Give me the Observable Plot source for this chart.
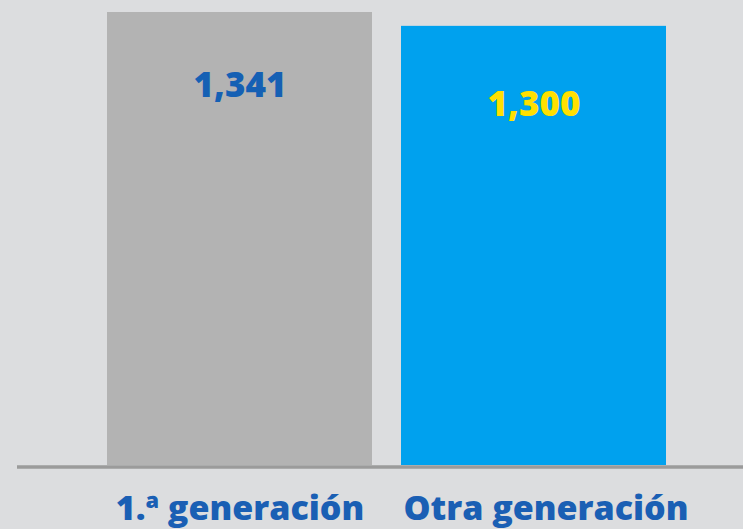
<!DOCTYPE html>
<html>
<head>
<meta charset="utf-8">
<script src="https://cdn.jsdelivr.net/npm/d3@7"></script>
<script src="https://cdn.jsdelivr.net/npm/@observablehq/plot@0.6"></script>
<style>
  html, body { margin: 0; padding: 0; background: #dcdddf; }
  #chart svg { display: block; }
</style>
</head>
<body>
<div id="chart"></div>
<script>
const categories = ["1.ª generación", "Otra generación"];
const values = [1341, 1300];
const barColors = ["#b3b3b3", "#00a1ee"];
const valueColors = ["#1560b4", "#ffe000"];

const data = categories.map((c, i) => ({category: c, value: values[i], bar: barColors[i], txt: valueColors[i], i}));
const fmt = d3.format(",");
const font = "'Open Sans', sans-serif";

const chart = Plot.plot({
  width: 743,
  height: 529,
  marginLeft: 17,
  marginRight: 0,
  marginTop: 0,
  marginBottom: 0,
  style: {background: "#dcdddf", fontFamily: font},
  x: {domain: categories, range: [106, 667], paddingInner: 0.098, paddingOuter: 0, axis: null},
  y: {domain: [0, 1341], range: [465, 12], axis: null},
  marks: [
    Plot.barY(data, {x: "category", y: "value", fill: "bar"}),
    Plot.ruleY([0], {stroke: "#9b9b9b", strokeWidth: 3.5, dy: 1.5}),
    Plot.text(data.filter(d => d.i === 0), {x: "category", y: "value", text: d => fmt(d.value), fill: "txt", dy: 73, fontSize: 35, fontWeight: 800, fontFamily: font}),
    Plot.text(data.filter(d => d.i === 1), {x: "category", y: "value", text: d => fmt(d.value), fill: "txt", dy: 78, fontSize: 35, fontWeight: 800, fontFamily: font}),
    Plot.text(data.filter(d => d.i === 0), {x: "category", y: () => 0, text: "category", fill: "#1a5fb4", dy: 44, fontSize: 34, fontWeight: 800, fontFamily: font}),
    Plot.text(data.filter(d => d.i === 1), {x: "category", y: () => 0, text: "category", fill: "#1a5fb4", dy: 44, dx: 12, fontSize: 34, fontWeight: 800, fontFamily: font})
  ]
});
document.getElementById("chart").appendChild(chart);
</script>
</body>
</html>
